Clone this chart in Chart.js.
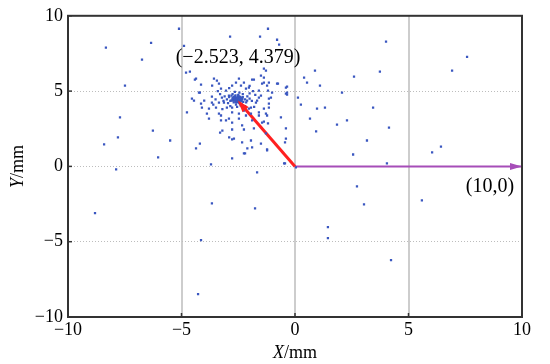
<!DOCTYPE html>
<html lang="en">
<head>
<meta charset="UTF-8">
<title>Scatter with vectors</title>
<script src="https://cdn.jsdelivr.net/npm/chart.js"></script>
<style>
    html, body { margin: 0; padding: 0; background: #fff; }
    #wrap { width: 550px; height: 364px; }
</style>
</head>
<body>
<div id="wrap"><canvas id="chart" width="550" height="364"></canvas></div>
<script>
// axis ticks
const tickValues = [-10, -5, 0, 5, 10];

// scattered measurement points (mm)
const dotsX = [
    -8.33, -5.11, -6.34, -6.74, -7.49, -4.89, -2.86, -1.54, -1.19, -7.71, -6.26, -7.80, -8.41, -5.50, -6.03, -7.88, -3.70, -4.76, -4.80, -4.63,
    -4.36, -4.23, -4.54, -4.14, -3.88, -4.19, -4.36, -3.20, -2.69, -2.90, -2.10, -2.20, -2.77, -1.67, -3.65, -3.35, -3.57, -2.47, -2.03, -1.89,
    -1.37, -1.50, -1.37, -1.23, -1.19, -1.06, -1.15, -1.28, -1.59, -1.89, -1.45, -1.81, -1.28, -1.89, -1.50, -1.23, -2.47, -2.33, -2.77, -3.04,
    -3.35, -3.48, -3.79, -4.00, -2.77, -2.25, -1.94, -1.72, -1.59, -2.11,
    -0.79, -0.70, 4.01, 7.58, 6.92, 0.40, 0.88, 0.53, 1.10, 2.60, 3.74, 2.07, -0.75, -0.40, -0.40, 0.13, 0.26, 0.97, 1.32, 3.44,
    0.66, 1.85, 2.29, 4.14, 0.93, -0.62, -0.40, -0.40, -0.44, 3.17, 2.56, 6.04, 6.43, 4.05, -0.44, 0.04,
    -8.81, -3.66, -1.76, -4.14, -4.27, 2.73, 3.04, 5.59, 1.45, 1.45, 4.23,
    -4.41, -4.14, -3.44, -4.19, -4.45, -4.10, -3.66, -3.66, -3.35, -3.22, -3.04, -3.26, -2.77, -2.60, -2.38, -2.25, -2.16, -3.00, -3.26, -3.79,
    -2.91, -2.77, -2.47, -2.16, -2.03, -3.13, -2.91, -2.82, -3.26, -2.77, -3.30, -2.77, -2.33, -2.25,
    -1.50, -1.15, -0.35, -1.15, -1.67, -1.37, -1.94, -1.59, -1.23, -1.37, -1.19, -1.94, -1.23, -2.25, -0.48,
    -1.28, -1.37, -1.81, -1.15, -1.45, -0.79, -0.35, -1.59, -1.01, -0.35,
    -2.55, -2.40, -2.70, -2.50, -2.60, -2.35, -2.75, -2.45, -2.65, -2.30, -2.85, -2.20, -2.50, -2.90, -2.60, -2.40, -2.15, -2.95, -2.30, -2.75,
    -2.10, -3.00, -2.55, -2.20, -2.85, -2.45, -2.00, -3.10, -2.65, -2.00, -2.35, -2.60, -2.50, -2.70, -2.42, -2.62, -2.28, -2.80, -3.15, -1.90,
    -3.30, -3.50, -3.40, -1.85, -1.75, -2.00, -2.90, -3.60, -1.80, -3.20,
    -2.52, -2.58, -2.48, -2.62, -2.44, -2.68, -2.56, -2.50, -2.40, -2.64, -2.72, -2.36, -2.54, -2.46, -2.60, -2.70, -2.38, -2.58, -2.50, -2.66,
    -2.44, -2.76, -2.32, -2.56, -2.62
];
const dotsY = [
    7.88, 9.14, 8.21, 7.09, 5.36, 8.01, 8.61, 8.61, 9.14, 3.25, 2.38, 1.92, 1.46, 1.72, 0.60, -0.20, 0.13, 3.58, 6.23, 6.29,
    5.83, 4.90, 4.50, 4.17, 3.50, 1.52, 1.19, 2.38, 1.85, 1.92, 1.19, 0.86, 0.53, -0.40, 5.36, 5.50, 5.83, 5.83, 5.23, 5.76,
    6.49, 6.03, 5.56, 5.36, 5.03, 4.57, 3.91, 3.51, 3.58, 3.05, 2.91, 2.52, 2.19, 1.26, 1.52, 1.13, 3.18, 2.72, 2.91, 3.05,
    3.51, 3.91, 3.84, 4.37, 3.91, 3.71, 3.91, 4.24, 4.57, 4.37,
    8.41, 8.08, 8.28, 7.28, 6.36, 5.89, 6.36, 5.56, 5.36, 5.96, 6.29, 4.90, 5.50, 5.23, 4.83, 4.57, 4.10, 3.84, 3.91, 3.91,
    3.18, 2.78, 3.05, 2.58, 2.32, 3.25, 2.52, 1.85, 1.59, 1.72, 0.79, 0.93, 1.32, 0.20, 0.20, -0.07,
    -3.11, -2.45, -2.78, -4.90, -8.48, -1.32, -2.52, -2.25, -4.04, -4.77, -6.23,
    5.76, 5.43, 5.70, 4.90, 4.37, 3.91, 4.64, 4.24, 4.24, 4.57, 5.03, 5.17, 5.36, 5.56, 5.36, 5.56, 5.17, 3.91, 3.38, 3.18,
    3.18, 3.58, 3.51, 3.38, 3.84, 4.24, 4.70, 4.37, 3.05, 2.45, 2.25, 1.79, 1.59, 2.45,
    4.70, 4.50, 4.77, 4.17, 4.37, 3.84, 3.51, 3.38, 3.38, 2.98, 2.85, 1.72, 1.06, 0.86, 0.20,
    6.36, 5.89, 5.76, 5.56, 5.50, 5.50, 5.30, 5.03, 4.90, 4.90,
    4.45, 4.50, 4.40, 4.60, 4.30, 4.35, 4.55, 4.20, 4.65, 4.60, 4.35, 4.45, 4.75, 4.60, 4.10, 4.05, 4.25, 4.20, 4.80, 4.80,
    4.65, 4.45, 3.95, 4.00, 4.00, 4.90, 4.50, 4.65, 4.95, 4.85, 4.15, 4.50, 4.35, 4.25, 4.62, 4.72, 4.28, 4.70, 4.35, 4.35,
    4.80, 4.45, 5.00, 5.00, 4.75, 5.35, 5.20, 4.10, 3.95, 3.80,
    4.40, 4.48, 4.52, 4.38, 4.44, 4.46, 4.58, 4.32, 4.42, 4.55, 4.36, 4.50, 4.28, 4.64, 4.40, 4.62, 4.56, 4.24, 4.68, 4.50,
    4.34, 4.44, 4.46, 4.54, 4.30
];

// vectors drawn from the origin
const redVecX = [0, -2.523];
const redVecY = [0, 4.379];
const purpleVecX = [0, 10];
const purpleVecY = [0, 0];

const SERIF = '"Liberation Serif", "Times New Roman", serif';

function pts(xs, ys) {
    return xs.map((x, i) => ({ x: x, y: ys[i] }));
}
function fmt(v) {
    return String(v).replace('-', '\u2212');
}

// arrowheads, labels, frame and axis titles
const decorPlugin = {
    id: 'decor',
    afterDatasetsDraw(chart) {
        const ctx = chart.ctx;
        const xs = chart.scales.x, ys = chart.scales.y;
        const area = chart.chartArea;

        function head(x0, y0, x1, y1, color, len, wid) {
            const px0 = xs.getPixelForValue(x0), py0 = ys.getPixelForValue(y0);
            const px1 = xs.getPixelForValue(x1), py1 = ys.getPixelForValue(y1);
            const a = Math.atan2(py1 - py0, px1 - px0);
            ctx.save();
            ctx.fillStyle = color;
            ctx.beginPath();
            ctx.moveTo(px1, py1);
            ctx.lineTo(px1 - len * Math.cos(a) + wid * Math.sin(a), py1 - len * Math.sin(a) - wid * Math.cos(a));
            ctx.lineTo(px1 - len * Math.cos(a) - wid * Math.sin(a), py1 - len * Math.sin(a) + wid * Math.cos(a));
            ctx.closePath();
            ctx.fill();
            ctx.restore();
        }
        head(redVecX[0], redVecY[0], redVecX[1], redVecY[1], '#ff2020', 12, 4);
        head(purpleVecX[0], purpleVecY[0], purpleVecX[1], purpleVecY[1], '#a64db8', 12, 3.5);

        ctx.save();
        ctx.fillStyle = '#000';
        ctx.font = '20px ' + SERIF;
        ctx.textBaseline = 'alphabetic';
        ctx.textAlign = 'center';
        ctx.fillText('(\u22122.523, 4.379)', 238, 63);
        ctx.fillText('(10,0)', 490, 192);

        // frame
        ctx.strokeStyle = '#333';
        ctx.lineWidth = 2;
        ctx.strokeRect(area.left, area.top, area.right - area.left, area.bottom - area.top);

        // inward tick marks
        ctx.lineWidth = 1.5;
        tickValues.forEach(v => {
            const px = xs.getPixelForValue(v);
            ctx.beginPath();
            ctx.moveTo(px, area.bottom);
            ctx.lineTo(px, area.bottom - 4);
            ctx.stroke();
            const py = ys.getPixelForValue(v);
            ctx.beginPath();
            ctx.moveTo(area.left, py);
            ctx.lineTo(area.left + 4, py);
            ctx.stroke();
        });

        // axis titles with italic variable
        ctx.textAlign = 'left';
        ctx.textBaseline = 'middle';
        const xi = 'italic 18px ' + SERIF, xr = '18px ' + SERIF;
        ctx.font = xi;
        const w1 = ctx.measureText('X').width;
        ctx.font = xr;
        const w2 = ctx.measureText('/mm').width;
        let sx = (area.left + area.right) / 2 - (w1 + w2) / 2;
        ctx.font = xi;
        ctx.fillText('X', sx, 353);
        ctx.font = xr;
        ctx.fillText('/mm', sx + w1, 353);

        ctx.translate(18, (area.top + area.bottom) / 2);
        ctx.rotate(-Math.PI / 2);
        ctx.font = xi;
        const h1 = ctx.measureText('Y').width;
        let sy = -(h1 + w2) / 2;
        ctx.fillText('Y', sy, 0);
        ctx.font = xr;
        ctx.fillText('/mm', sy + h1, 0);
        ctx.restore();
    }
};

new Chart(document.getElementById('chart'), {
    type: 'scatter',
    data: {
        datasets: [
            {
                data: pts(dotsX, dotsY),
                backgroundColor: '#3a57c0',
                borderWidth: 0,
                pointRadius: 1.6,
                pointStyle: 'rect'
            },
            {
                data: pts(redVecX, redVecY),
                showLine: true,
                borderColor: '#ff2020',
                borderWidth: 3,
                pointRadius: 0
            },
            {
                data: pts(purpleVecX, purpleVecY),
                showLine: true,
                borderColor: '#a64db8',
                borderWidth: 2,
                pointRadius: 0
            }
        ]
    },
    options: {
        responsive: false,
        animation: false,
        layout: { padding: { top: 15, right: 28, left: 0, bottom: 0 } },
        plugins: { legend: { display: false }, tooltip: { enabled: false } },
        scales: {
            x: {
                min: -10, max: 10,
                afterBuildTicks: s => { s.ticks = tickValues.map(v => ({ value: v })); },
                afterFit: s => { s.height = 47; },
                ticks: {
                    color: '#000',
                    font: { family: SERIF, size: 18 },
                    padding: 2,
                    maxRotation: 0,
                    callback: v => fmt(v)
                },
                grid: {
                    drawTicks: false,
                    color: c => (c.tick && Math.abs(c.tick.value) === 5 || c.tick && c.tick.value === 0) ? '#cdcdcd' : 'rgba(0,0,0,0)',
                    lineWidth: 2
                },
                border: { display: false }
            },
            y: {
                min: -10, max: 10,
                afterBuildTicks: s => { s.ticks = tickValues.map(v => ({ value: v })); },
                afterFit: s => { s.width = 68; },
                ticks: {
                    color: '#000',
                    font: { family: SERIF, size: 18 },
                    padding: 5,
                    callback: v => fmt(v)
                },
                grid: {
                    drawTicks: false,
                    color: c => (c.tick && Math.abs(c.tick.value) < 10) ? '#bdbdbd' : 'rgba(0,0,0,0)',
                    lineWidth: 1
                },
                border: { display: false, dash: [1, 2] }
            }
        }
    },
    plugins: [decorPlugin]
});
</script>
</body>
</html>
